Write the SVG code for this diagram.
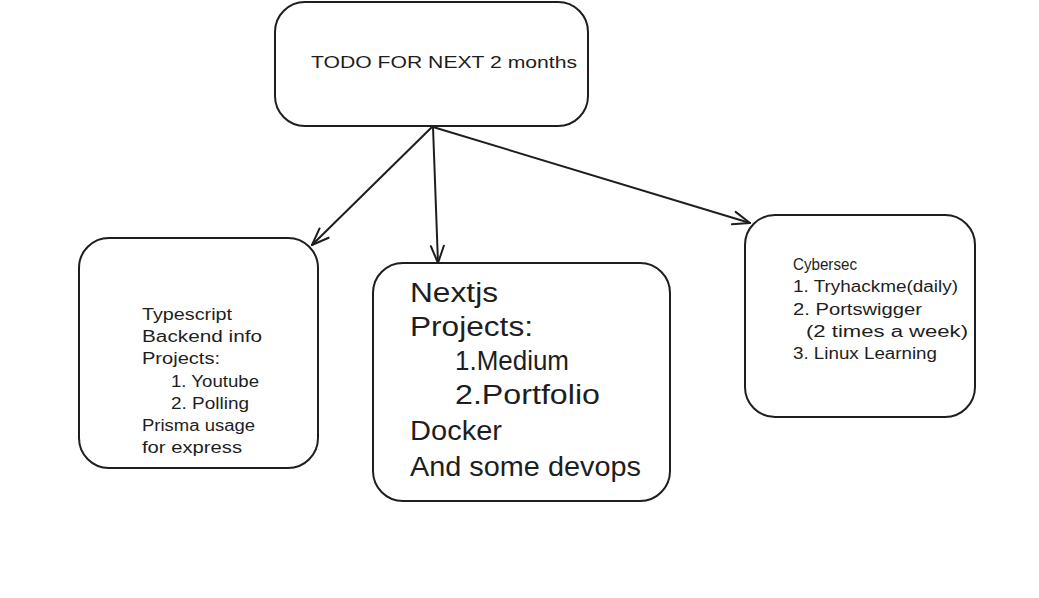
<svg xmlns="http://www.w3.org/2000/svg" width="1039" height="598" viewBox="0 0 1039 598">
<defs>
<style>
.box{fill:#ffffff;stroke:#1e1e1e;stroke-width:2;}
.edge{fill:none;stroke:#1e1e1e;stroke-width:2;stroke-linecap:round;}
.t{font-family:"Liberation Sans","DejaVu Sans",sans-serif;fill:#1e1e1e;}
.s{font-size:16px;}
.l{font-size:27px;}
</style>
<marker id="arr" viewBox="0 0 22 22" refX="20" refY="11" markerWidth="22" markerHeight="22" markerUnits="userSpaceOnUse" orient="auto">
<path d="M3,4.5 L20,11 L3,17.5" fill="none" stroke="#1e1e1e" stroke-width="2" stroke-linecap="round" stroke-linejoin="round"/>
</marker>
</defs>
<rect width="1039" height="598" fill="#ffffff"/>
<g id="connectors">
<path class="edge" d="M432,127 L312,245" marker-end="url(#arr)"/>
<path class="edge" d="M433,127 L438,263" marker-end="url(#arr)"/>
<path class="edge" d="M433,127 L750,223" marker-end="url(#arr)"/>
</g>
<g id="node-todo">
<rect class="box" x="275" y="2" width="313" height="124" rx="30"/>
<text class="t s" x="311" y="68" textLength="266" lengthAdjust="spacingAndGlyphs">TODO FOR NEXT 2 months</text>
</g>
<g id="node-backend">
<rect class="box" x="79" y="238" width="239" height="230" rx="30"/>
<text class="t s" x="142" y="320" textLength="90" lengthAdjust="spacingAndGlyphs">Typescript</text>
<text class="t s" x="142" y="342" textLength="120" lengthAdjust="spacingAndGlyphs">Backend info</text>
<text class="t s" x="142" y="364" textLength="78" lengthAdjust="spacingAndGlyphs">Projects:</text>
<text class="t s" x="171" y="387" textLength="88" lengthAdjust="spacingAndGlyphs">1. Youtube</text>
<text class="t s" x="171" y="409" textLength="78" lengthAdjust="spacingAndGlyphs">2. Polling</text>
<text class="t s" x="142" y="431" textLength="113" lengthAdjust="spacingAndGlyphs">Prisma usage</text>
<text class="t s" x="142" y="453" textLength="100" lengthAdjust="spacingAndGlyphs">for express</text>
</g>
<g id="node-nextjs">
<rect class="box" x="373" y="263" width="297" height="238" rx="30"/>
<text class="t l" x="410" y="302" textLength="88" lengthAdjust="spacingAndGlyphs">Nextjs</text>
<text class="t l" x="410" y="336" textLength="123" lengthAdjust="spacingAndGlyphs">Projects:</text>
<text class="t l" x="455" y="370" textLength="114" lengthAdjust="spacingAndGlyphs">1.Medium</text>
<text class="t l" x="455" y="404" textLength="145" lengthAdjust="spacingAndGlyphs">2.Portfolio</text>
<text class="t l" x="410" y="440" textLength="92" lengthAdjust="spacingAndGlyphs">Docker</text>
<text class="t l" x="410" y="476" textLength="231" lengthAdjust="spacingAndGlyphs">And some devops</text>
</g>
<g id="node-cybersec">
<rect class="box" x="745" y="215" width="230" height="202" rx="30"/>
<text class="t s" x="793" y="270" textLength="64" lengthAdjust="spacingAndGlyphs">Cybersec</text>
<text class="t s" x="793" y="292" textLength="165" lengthAdjust="spacingAndGlyphs">1. Tryhackme(daily)</text>
<text class="t s" x="793" y="315" textLength="129" lengthAdjust="spacingAndGlyphs">2. Portswigger</text>
<text class="t s" x="806" y="337" textLength="162" lengthAdjust="spacingAndGlyphs">(2 times a week)</text>
<text class="t s" x="793" y="359" textLength="144" lengthAdjust="spacingAndGlyphs">3. Linux Learning</text>
</g>
</svg>
